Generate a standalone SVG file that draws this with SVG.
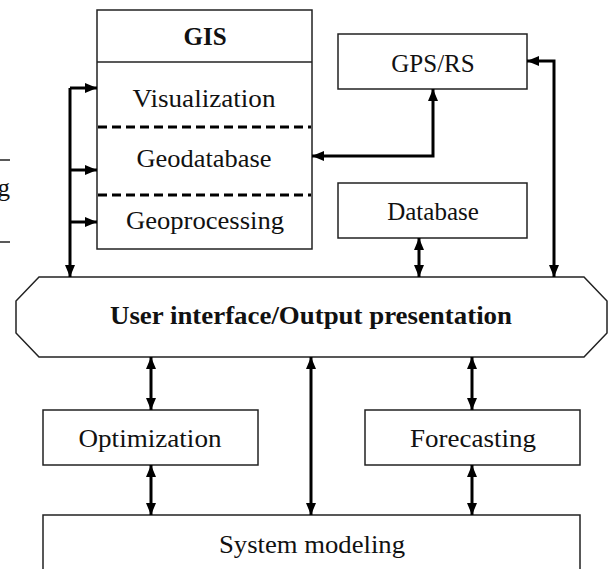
<svg xmlns="http://www.w3.org/2000/svg" width="608" height="569" viewBox="0 0 608 569">
  <defs>
    <marker id="arrow" viewBox="0 0 12 10" refX="12" refY="5" markerWidth="12" markerHeight="10" markerUnits="userSpaceOnUse" orient="auto-start-reverse">
      <path d="M0,0 L12,5 L0,10 Z" fill="#000"/>
    </marker>
    <style>
      .box { fill: #fff; stroke: #222; stroke-width: 1.5; }
      .sep { stroke: #222; stroke-width: 1.5; }
      .dash { stroke: #000; stroke-width: 3; stroke-dasharray: 9 5; }
      text { font-family: 'Liberation Serif', 'DejaVu Serif', serif; font-size: 25px; fill: #111; text-anchor: middle; }
      .bold { font-weight: bold; }
      .conn { fill: none; stroke: #000; stroke-width: 3; }
      .one { marker-end: url(#arrow); }
      .two { marker-start: url(#arrow); marker-end: url(#arrow); }
    </style>
  </defs>
  <rect width="608" height="569" fill="#fff"/>

  <!-- fragment of a neighbouring box at the left edge -->
  <g id="edge-fragment">
    <line class="sep" x1="0" y1="160" x2="10" y2="160"/>
    <line class="sep" x1="0" y1="242" x2="10" y2="242"/>
    <text x="10" y="196" text-anchor="end" style="text-anchor:end">g</text>
  </g>

  <g id="gis">
    <rect class="box" x="97" y="10" width="215" height="239"/>
    <line class="sep" x1="97" y1="62" x2="312" y2="62"/>
    <line class="dash" x1="98" y1="127" x2="311" y2="127"/>
    <line class="dash" x1="98" y1="195" x2="311" y2="195"/>
    <text class="bold" x="205" y="45">GIS</text>
    <text x="204" y="107" textLength="143" lengthAdjust="spacingAndGlyphs">Visualization</text>
    <text x="204" y="167" textLength="135" lengthAdjust="spacingAndGlyphs">Geodatabase</text>
    <text x="205" y="229" textLength="158" lengthAdjust="spacingAndGlyphs">Geoprocessing</text>
  </g>

  <g id="gps-rs">
    <rect class="box" x="338" y="34" width="189" height="55"/>
    <text x="433" y="72">GPS/RS</text>
  </g>

  <g id="database">
    <rect class="box" x="338" y="183" width="189" height="55"/>
    <text x="433" y="220">Database</text>
  </g>

  <g id="user-interface">
    <path class="box" d="M39,277 L584,277 L607,301 L607,333 L584,357 L39,357 L16,333 L16,301 Z"/>
    <text class="bold" x="311" y="324" textLength="402" lengthAdjust="spacingAndGlyphs">User interface/Output presentation</text>
  </g>

  <g id="optimization">
    <rect class="box" x="43" y="410" width="215" height="55"/>
    <text x="150" y="447" textLength="143" lengthAdjust="spacingAndGlyphs">Optimization</text>
  </g>

  <g id="forecasting">
    <rect class="box" x="365" y="410" width="215" height="55"/>
    <text x="473" y="447" textLength="126" lengthAdjust="spacingAndGlyphs">Forecasting</text>
  </g>

  <g id="system-modeling">
    <rect class="box" x="43" y="515" width="537" height="70"/>
    <text x="312" y="553" textLength="186" lengthAdjust="spacingAndGlyphs">System modeling</text>
  </g>

  <g id="connectors">
    <!-- GIS layers fed from the user interface -->
    <path class="conn one" d="M70,88 L70,277"/>
    <path class="conn one" d="M70,88 L97,88"/>
    <path class="conn one" d="M70,170 L97,170"/>
    <path class="conn one" d="M70,222 L97,222"/>
    <!-- GPS/RS to Geodatabase -->
    <path class="conn two" d="M433,89 L433,156 L312,156"/>
    <!-- GPS/RS to user interface -->
    <path class="conn two" d="M527,61 L554,61 L554,277"/>
    <!-- Database to user interface -->
    <path class="conn two" d="M419,238 L419,277"/>
    <!-- user interface to lower modules -->
    <path class="conn two" d="M151,357 L151,410"/>
    <path class="conn two" d="M151,465 L151,515"/>
    <path class="conn two" d="M311,357 L311,515"/>
    <path class="conn two" d="M472,357 L472,410"/>
    <path class="conn two" d="M472,465 L472,515"/>
  </g>
</svg>
